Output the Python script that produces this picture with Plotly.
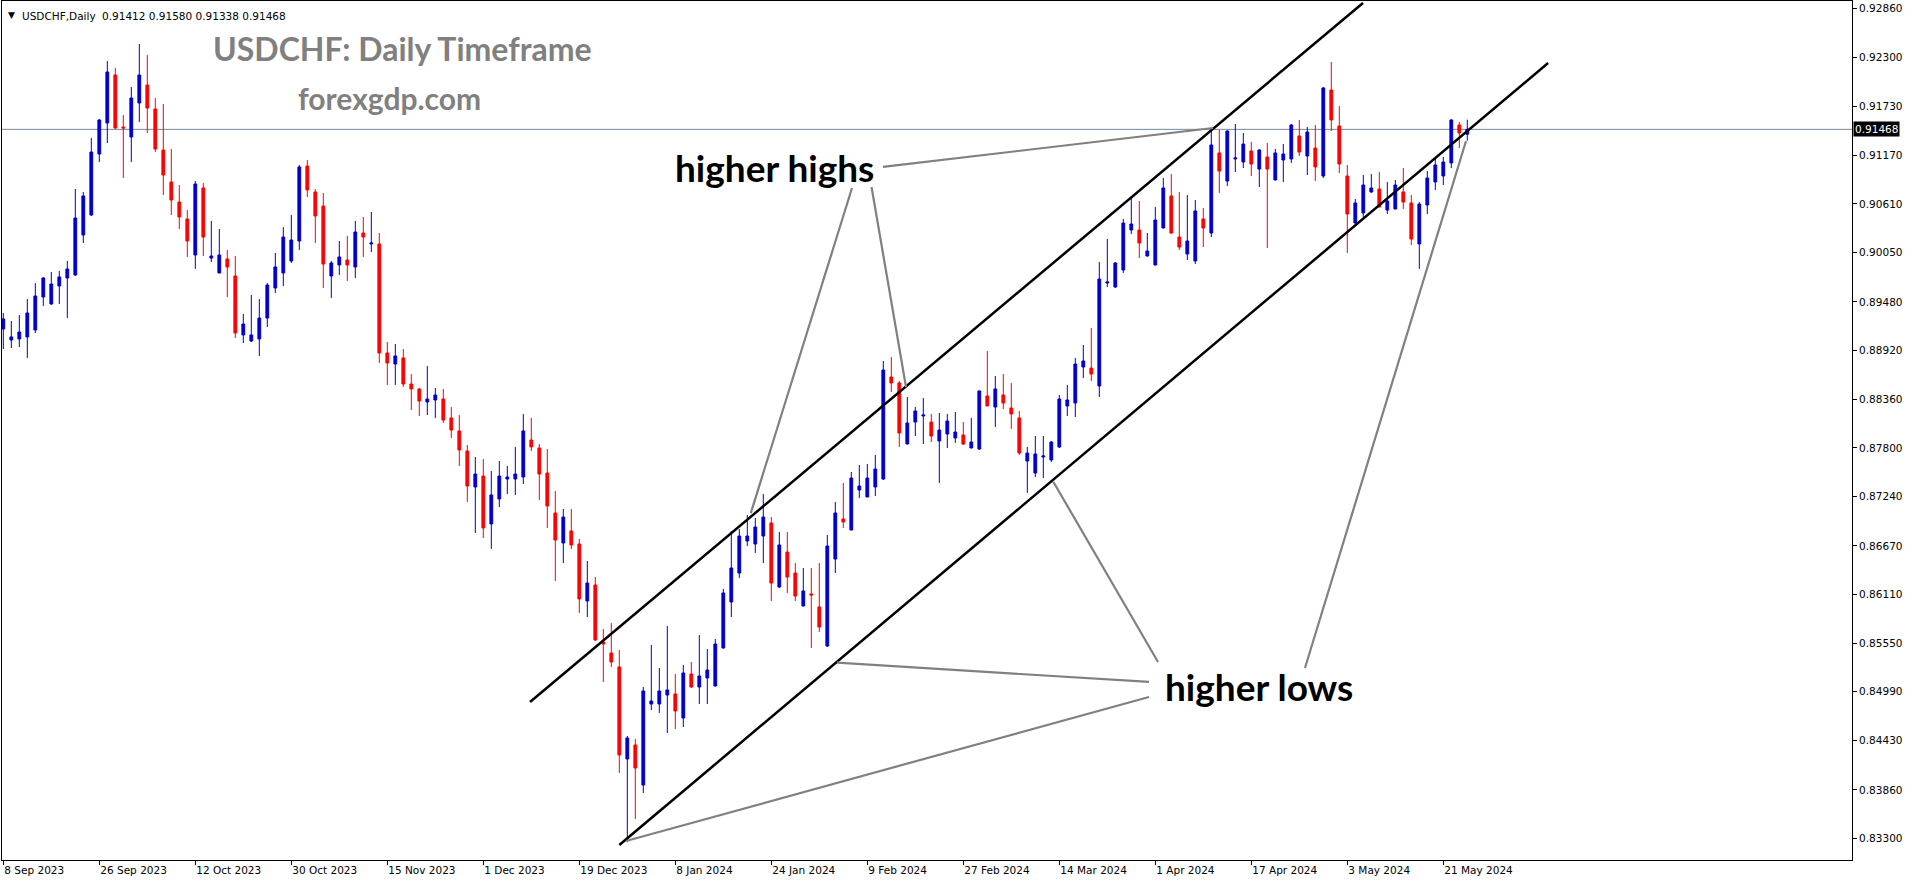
import pandas as pd
import plotly.graph_objects as go

# ---------------- data ----------------
_days = pd.bdate_range("2023-09-08", "2024-05-24")
dates = [d.strftime("%Y-%m-%d") for d in _days if d.strftime("%m-%d") not in ("12-25", "01-01")]

open_ = [0.89169,0.89042,0.89053,0.89077,0.89157,0.89537,0.89457,0.89664,0.89756,0.89791,
0.90251,0.90482,0.91184,0.91541,0.92094,0.91495,0.91380,0.91772,0.91979,0.91703,
0.91230,0.90862,0.90631,0.90436,0.90021,0.90793,0.89986,0.89814,0.89975,0.89779,
0.89100,0.89030,0.89053,0.89295,0.89641,0.89814,0.89952,0.90182,0.91046,0.90747,
0.90585,0.89779,0.89906,0.89963,0.89883,0.90274,0.90148,0.90148,0.88892,0.88765,
0.88835,0.88535,0.88478,0.88328,0.88351,0.88362,0.88144,0.87994,0.87763,0.87349,
0.87475,0.86923,0.87211,0.87441,0.87441,0.87464,0.87890,0.87798,0.87510,0.87049,
0.86704,0.86842,0.86692,0.86036,0.86220,0.85564,0.85437,0.85276,0.84216,0.84377,
0.83916,0.84849,0.84849,0.84953,0.84965,0.84688,0.85195,0.85045,0.85149,0.85057,
0.85494,0.86024,0.86358,0.86727,0.86692,0.86784,0.86934,0.86197,0.86600,0.86358,
0.85978,0.86116,0.85967,0.85517,0.86519,0.86980,0.86854,0.87314,0.87234,0.87349,
0.87441,0.88616,0.88547,0.87844,0.88097,0.88167,0.88097,0.87879,0.87959,0.87913,
0.87948,0.87798,0.87786,0.88397,0.88270,0.88408,0.88259,0.88144,0.87648,0.87510,
0.87694,0.87660,0.87810,0.88282,0.88316,0.88731,0.88719,0.88512,0.89698,0.89652,
0.89848,0.90309,0.90309,0.90009,0.89906,0.90332,0.90701,0.90228,0.90032,0.89952,
0.90436,0.90274,0.91196,0.90873,0.91127,0.91092,0.91219,0.91011,0.91150,0.90885,
0.91115,0.91127,0.91392,0.91161,0.91253,0.90931,0.91921,0.91507,0.90931,0.90389,
0.90505,0.90747,0.90781,0.90539,0.90551,0.90747,0.90620,0.90148,0.90597,0.90862,
0.90931,0.91081,0.91518,0.91412]

high = [0.89353,0.89261,0.89330,0.89514,0.89698,0.89768,0.89825,0.89837,0.89952,0.90781,
0.90747,0.91369,0.91587,0.92255,0.92175,0.91633,0.91956,0.92451,0.92325,0.91829,
0.91760,0.91242,0.90827,0.90539,0.90873,0.90850,0.90413,0.90320,0.90079,0.90009,
0.89341,0.89560,0.89514,0.89698,0.90044,0.90343,0.90482,0.91058,0.91115,0.90781,
0.90735,0.89952,0.90182,0.90240,0.90413,0.90459,0.90516,0.90274,0.89019,0.88996,
0.88938,0.88650,0.88490,0.88742,0.88489,0.88478,0.88270,0.88178,0.87833,0.87694,
0.87671,0.87533,0.87648,0.87591,0.87810,0.88190,0.88144,0.87844,0.87786,0.87303,
0.87095,0.87095,0.86750,0.86496,0.86312,0.85713,0.85782,0.85471,0.84481,0.84446,
0.85045,0.85529,0.85264,0.85748,0.85195,0.85299,0.85333,0.85644,0.85483,0.85598,
0.86174,0.86842,0.86865,0.87026,0.86992,0.87268,0.87003,0.86831,0.86831,0.86473,
0.86416,0.86416,0.86473,0.86796,0.87176,0.87395,0.87522,0.87602,0.87614,0.87717,
0.88800,0.88846,0.88570,0.88385,0.88270,0.88374,0.88190,0.88201,0.88190,0.88213,
0.88097,0.88144,0.88460,0.88915,0.88627,0.88650,0.88547,0.88224,0.87810,0.87936,
0.87936,0.87879,0.88408,0.88524,0.88835,0.88984,0.89180,0.89940,0.90205,0.89940,
0.90436,0.90689,0.90643,0.90274,0.90574,0.90908,0.90954,0.90747,0.90712,0.90654,
0.90562,0.91472,0.91461,0.91455,0.91530,0.91426,0.91323,0.91242,0.91311,0.91242,
0.91299,0.91530,0.91576,0.91495,0.91518,0.91956,0.92244,0.91737,0.91058,0.90666,
0.90942,0.90954,0.90977,0.90862,0.90885,0.91023,0.90712,0.90631,0.90988,0.91150,
0.91150,0.91587,0.91553,0.91580]

low = [0.88938,0.88950,0.88961,0.88835,0.89123,0.89434,0.89445,0.89457,0.89295,0.89779,
0.90159,0.90470,0.91092,0.91311,0.91472,0.90908,0.91092,0.91553,0.91426,0.91207,
0.90712,0.90482,0.90320,0.89998,0.89860,0.90009,0.89940,0.89810,0.89537,0.89065,
0.89007,0.89019,0.88858,0.89192,0.89583,0.89664,0.89929,0.90079,0.90689,0.90159,
0.89641,0.89526,0.89791,0.89722,0.89756,0.89998,0.90056,0.88777,0.88524,0.88524,
0.88501,0.88236,0.88167,0.88178,0.88144,0.88086,0.87913,0.87591,0.87176,0.86819,
0.86761,0.86635,0.87118,0.87268,0.87257,0.87383,0.87763,0.87199,0.86877,0.86266,
0.86473,0.86635,0.85897,0.85851,0.85575,0.85103,0.85276,0.84055,0.83260,0.83525,
0.83824,0.84780,0.84746,0.84515,0.84561,0.84584,0.85034,0.84849,0.84849,0.85050,
0.85490,0.85851,0.86301,0.86669,0.86589,0.86473,0.86036,0.86186,0.86128,0.86036,
0.85975,0.85494,0.85679,0.85506,0.86358,0.86877,0.86850,0.87222,0.87230,0.87245,
0.87429,0.88443,0.87810,0.87840,0.87936,0.87844,0.87867,0.87395,0.87798,0.87856,
0.87833,0.87795,0.87775,0.88278,0.88040,0.88247,0.88017,0.87717,0.87280,0.87464,
0.87452,0.87637,0.87798,0.88167,0.88155,0.88604,0.88570,0.88385,0.89652,0.89641,
0.89814,0.90263,0.89986,0.90005,0.89900,0.90328,0.90263,0.90079,0.89963,0.89917,
0.90113,0.90228,0.90735,0.90816,0.90977,0.91023,0.90931,0.90804,0.90102,0.90880,
0.90862,0.91081,0.91161,0.90942,0.90873,0.90908,0.91449,0.90965,0.90044,0.90385,
0.90459,0.90735,0.90570,0.90493,0.90547,0.90551,0.90136,0.89860,0.90493,0.90770,
0.90827,0.91023,0.91253,0.91338]

close = [0.89284,0.89077,0.89134,0.89353,0.89549,0.89756,0.89687,0.89768,0.89860,0.90447,
0.90701,0.91207,0.91576,0.92129,0.91484,0.91484,0.91829,0.92094,0.91714,0.91242,
0.90942,0.90654,0.90459,0.90182,0.90839,0.90228,0.90009,0.90021,0.89883,0.89123,
0.89226,0.89100,0.89295,0.89675,0.89883,0.90228,0.90194,0.91035,0.90770,0.90470,
0.89917,0.89929,0.89998,0.89906,0.90286,0.90228,0.90159,0.88892,0.88777,0.88858,
0.88535,0.88478,0.88339,0.88362,0.88408,0.88120,0.88005,0.87775,0.87360,0.87498,
0.86877,0.87257,0.87475,0.87464,0.87498,0.87994,0.87810,0.87498,0.87130,0.86738,
0.87003,0.86681,0.86059,0.86243,0.85587,0.85540,0.85333,0.84262,0.84458,0.84112,
0.84999,0.84884,0.84999,0.85011,0.84769,0.85206,0.85045,0.85172,0.85241,0.85540,
0.86128,0.86416,0.86784,0.86784,0.86888,0.87003,0.86243,0.86681,0.86312,0.86093,
0.86151,0.86105,0.85736,0.86669,0.87049,0.86946,0.87452,0.87360,0.87452,0.87556,
0.88696,0.88547,0.87971,0.88086,0.88224,0.88178,0.87936,0.88005,0.88109,0.87982,
0.87844,0.87867,0.88455,0.88282,0.88478,0.88316,0.88190,0.87740,0.87740,0.87729,
0.87706,0.87867,0.88362,0.88351,0.88765,0.88800,0.88650,0.89744,0.89710,0.89929,
0.90389,0.90378,0.90159,0.90067,0.90424,0.90793,0.90274,0.90113,0.90182,0.90528,
0.90332,0.91288,0.90988,0.91449,0.91138,0.91299,0.91069,0.91230,0.91011,0.91196,
0.91184,0.91518,0.91207,0.91438,0.91035,0.91945,0.91576,0.91069,0.90493,0.90620,
0.90827,0.90793,0.90574,0.90643,0.90827,0.90631,0.90205,0.90608,0.90908,0.91058,
0.91092,0.91576,0.91426,0.91468]

y_ticks = [0.92860,0.92300,0.91730,0.91170,0.90610,0.90050,0.89480,0.88920,0.88360,
           0.87800,0.87240,0.86670,0.86110,0.85550,0.84990,0.84430,0.83860,0.83300]
x_tick_labels = ["8 Sep 2023","26 Sep 2023","12 Oct 2023","30 Oct 2023","15 Nov 2023",
                 "1 Dec 2023","19 Dec 2023","8 Jan 2024","24 Jan 2024","9 Feb 2024",
                 "27 Feb 2024","14 Mar 2024","1 Apr 2024","17 Apr 2024","3 May 2024","21 May 2024"]
last_price = close[-1]

# drawn lines (bar index, price)
channel_upper = [(65.84, 0.84872), (169.96, 0.92924)]
channel_lower = [(77.00, 0.83225), (193.10, 0.92232)]
pointers = [
    [(109.96, 0.91035), (151.21, 0.91484)],
    [(106.09, 0.90793), (93.43, 0.87046)],
    [(108.53, 0.90804), (112.84, 0.88501)],
    [(104.21, 0.85325), (143.21, 0.85103)],
    [(77.84, 0.83271), (143.21, 0.84930)],
    [(131.25, 0.87410), (144.34, 0.85333)],
    [(162.71, 0.85264), (182.84, 0.91334)],
]

# ---------------- figure ----------------
W, H = 1916, 884
ML, MR, MT, MB = 2, 64, 1, 24
PW, PH = W - ML - MR, H - MT - MB

def pxx(x):
    return (x - ML) / PW

def pxy(y):
    return (H - MB - y) / PH

BLUE = "#0000CD"
RED = "#FF0000"

fig = go.Figure()
fig.add_trace(go.Candlestick(
    x=dates, open=open_, high=high, low=low, close=close,
    increasing=dict(line=dict(color=BLUE, width=1), fillcolor=BLUE),
    decreasing=dict(line=dict(color=RED, width=1), fillcolor=RED),
    whiskerwidth=0, showlegend=False, hoverinfo="skip",
))

shapes = [dict(type="line", xref="paper", yref="y", x0=0, x1=1, y0=last_price, y1=last_price,
               line=dict(color="#778899", width=1), layer="below")]
for (a, b) in [channel_upper, channel_lower]:
    shapes.append(dict(type="line", xref="x", yref="y", x0=a[0], y0=a[1], x1=b[0], y1=b[1],
                       line=dict(color="#000000", width=2.5)))
for (a, b) in pointers:
    shapes.append(dict(type="line", xref="x", yref="y", x0=a[0], y0=a[1], x1=b[0], y1=b[1],
                       line=dict(color="#808080", width=2.2)))

TF = "DejaVu Sans"
ann = []
ann.append(dict(xref="paper", yref="paper", x=pxx(6), y=pxy(15), xanchor="left", yanchor="middle",
                text="▼", showarrow=False, font=dict(family=TF, size=9, color="black")))
ann.append(dict(xref="paper", yref="paper", x=pxx(20), y=pxy(16), xanchor="left", yanchor="middle",
                text="USDCHF,Daily", showarrow=False, font=dict(family=TF, size=10.5, color="black")))
ann.append(dict(xref="paper", yref="paper", x=pxx(100), y=pxy(16), xanchor="left", yanchor="middle",
                text=f"{open_[-1]:.5f} {high[-1]:.5f} {low[-1]:.5f} {close[-1]:.5f}", showarrow=False,
                font=dict(family=TF, size=10.5, color="black")))
ann.append(dict(xref="paper", yref="paper", x=pxx(402), y=pxy(49), xanchor="center", yanchor="middle",
                text="<b>USDCHF: Daily Timeframe</b>", showarrow=False,
                font=dict(family="Lato", size=32, color="#808080")))
ann.append(dict(xref="paper", yref="paper", x=pxx(389), y=pxy(98), xanchor="center", yanchor="middle",
                text="<b>forexgdp.com</b>", showarrow=False,
                font=dict(family="Lato", size=30, color="#808080")))
ann.append(dict(xref="paper", yref="paper", x=pxx(673), y=pxy(168), xanchor="left", yanchor="middle",
                text="<b>higher highs</b>", showarrow=False,
                font=dict(family="Lato", size=37, color="black")))
ann.append(dict(xref="paper", yref="paper", x=pxx(1163), y=pxy(686), xanchor="left", yanchor="middle",
                text="<b>higher lows</b>", showarrow=False,
                font=dict(family="Lato", size=37, color="black")))
ann.append(dict(xref="paper", yref="y", x=1, y=last_price, xanchor="left", yanchor="middle",
                xshift=1, text=f"{last_price:.5f}", showarrow=False, bgcolor="black", borderpad=1,
                font=dict(family=TF, size=10.5, color="white")))

fig.update_layout(
    width=W, height=H, autosize=False,
    margin=dict(l=ML, r=MR, t=MT, b=MB, pad=0),
    paper_bgcolor="white", plot_bgcolor="white",
    shapes=shapes, annotations=ann, boxgap=0.5,
    showlegend=False,
    xaxis=dict(type="category", range=[-0.1625, 231.0875], rangeslider=dict(visible=False),
               tickvals=dates[::12], ticktext=x_tick_labels, ticks="outside", ticklen=4,
               tickcolor="black", ticklabelposition="outside right",
               tickfont=dict(family=TF, size=10.5, color="black"),
               showline=True, linecolor="black", linewidth=1, mirror=True,
               showgrid=False, zeroline=False, fixedrange=True),
    yaxis=dict(side="right", range=[0.830525, 0.929465], tickvals=y_ticks,
               ticktext=[f"{v:.5f}" for v in y_ticks], ticks="outside", ticklen=4,
               tickcolor="black", tickfont=dict(family=TF, size=10.5, color="black"),
               showline=True, linecolor="black", linewidth=1, mirror=True,
               showgrid=False, zeroline=False, fixedrange=True),
)

fig.write_html("out.html", config={"displayModeBar": False},
               post_script="document.body.style.margin='0';document.body.style.overflow='hidden';")
